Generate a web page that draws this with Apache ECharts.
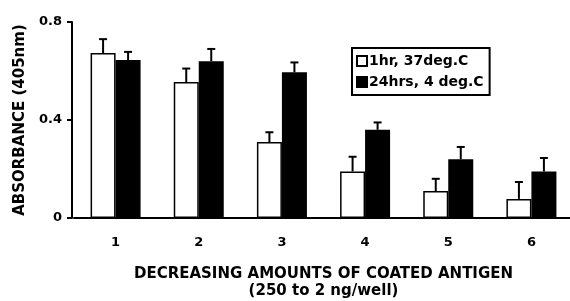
<!DOCTYPE html>
<html>
<head>
<meta charset="utf-8">
<script src="https://cdn.jsdelivr.net/npm/echarts@6/dist/echarts.min.js"></script>
</head>
<body style="margin:0;background:#fff">
<div id="chart" style="width:570px;height:301px;"></div>
<script>
var categories = ['1', '2', '3', '4', '5', '6'];
var warmValues = [0.673, 0.555, 0.31, 0.19, 0.11, 0.078];
var warmErrTop = [0.73, 0.61, 0.35, 0.25, 0.16, 0.147];
var coldValues = [0.645, 0.64, 0.595, 0.36, 0.24, 0.19];
var coldErrTop = [0.678, 0.69, 0.635, 0.39, 0.29, 0.245];
var yTicks = [0, 0.4, 0.8];

var BAR_W = 25;
var font = 'DejaVu Sans, sans-serif';

// up-only error bar with a cap, offset left or right of the category centre
function errorSeries(values, tops, side) {
    var data = [];
    for (var i = 0; i < values.length; i++) data.push([i, values[i], tops[i]]);
    return {
        type: 'custom',
        silent: true,
        z: 5,
        renderItem: function (params, api) {
            var base = api.coord([api.value(0), api.value(1)]);
            var top = api.coord([api.value(0), api.value(2)]);
            var x = base[0] + side * BAR_W / 2;
            var style = { stroke: '#000', lineWidth: 2 };
            return {
                type: 'group',
                children: [
                    { type: 'line', shape: { x1: x, y1: base[1], x2: x, y2: top[1] }, style: style },
                    { type: 'line', shape: { x1: x - 4, y1: top[1], x2: x + 4, y2: top[1] }, style: style }
                ]
            };
        },
        data: data
    };
}

var chart = echarts.init(document.getElementById('chart'));
chart.setOption({
    animation: false,
    backgroundColor: '#fff',
    grid: { left: 74, right: -3, top: 22, bottom: 83, outerBoundsMode: 'none', containLabel: false },
    legend: {
        left: 352, top: 48,
        orient: 'vertical',
        itemWidth: 10, itemHeight: 10, itemGap: 7,
        padding: [6, 6, 6, 4],
        borderColor: '#000', borderWidth: 2,
        textStyle: { fontFamily: font, fontWeight: 'bold', fontSize: 14, color: '#000', padding: [0, 0, 0, -3] },
        data: [
            { name: '1hr, 37deg.C', icon: 'rect' },
            { name: '24hrs, 4 deg.C', icon: 'rect' }
        ]
    },
    xAxis: {
        type: 'category',
        data: categories,
        name: 'DECREASING AMOUNTS OF COATED ANTIGEN\n(250 to 2 ng/well)',
        nameLocation: 'middle',
        nameGap: 48,
        nameTextStyle: { fontFamily: font, fontWeight: 'bold', fontSize: 15, color: '#000', lineHeight: 17 },
        axisLine: { lineStyle: { color: '#000', width: 2 } },
        axisTick: { interval: 0, length: 4, lineStyle: { color: '#000', width: 2 } },
        axisLabel: { fontFamily: font, fontWeight: 'bold', fontSize: 13, color: '#000', margin: 18 }
    },
    yAxis: {
        type: 'value',
        min: 0, max: 0.8, interval: 0.4,
        offset: 2,
        name: 'ABSORBANCE (405nm)',
        nameLocation: 'middle',
        nameGap: 43,
        nameTextStyle: { fontFamily: font, fontWeight: 'bold', fontSize: 15, color: '#000' },
        axisLine: { show: true, lineStyle: { color: '#000', width: 2 } },
        axisTick: { show: true, length: 5, lineStyle: { color: '#000', width: 2 } },
        splitLine: { show: false },
        axisLabel: {
            fontFamily: font, fontWeight: 'bold', fontSize: 13, color: '#000', margin: 10,
            formatter: function (v) { return yTicks.indexOf(v) >= 0 ? String(v) : ''; }
        }
    },
    series: [
        {
            name: '1hr, 37deg.C',
            type: 'bar',
            barWidth: BAR_W,
            barGap: '0%',
            itemStyle: { color: '#fff', borderColor: '#000', borderWidth: 1.5 },
            data: warmValues
        },
        {
            name: '24hrs, 4 deg.C',
            type: 'bar',
            barWidth: BAR_W,
            barGap: '0%',
            itemStyle: { color: '#000', borderColor: '#000', borderWidth: 1.5 },
            data: coldValues
        },
        errorSeries(warmValues, warmErrTop, -1),
        errorSeries(coldValues, coldErrTop, 1)
    ]
});
</script>
</body>
</html>
